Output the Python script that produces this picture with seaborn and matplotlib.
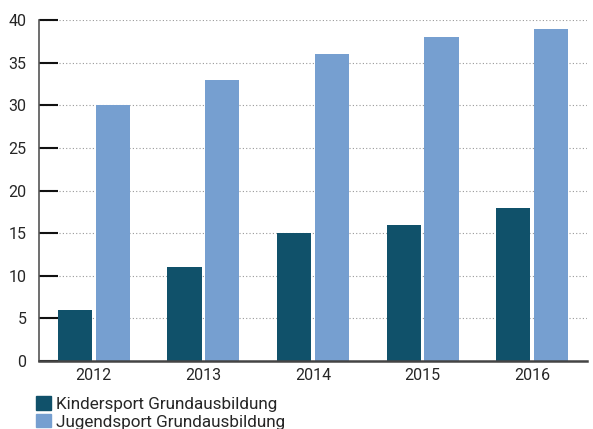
import matplotlib
matplotlib.use("Agg")
import matplotlib.pyplot as plt
import seaborn as sns
import pandas as pd
from matplotlib.patches import Patch

years = ["2012", "2013", "2014", "2015", "2016"]
kinder = [6, 11, 15, 16, 18]
jugend = [30, 33, 36, 38, 39]
series_names = ["Kindersport Grundausbildung", "Jugendsport Grundausbildung"]
colors = ["#10516A", "#769FD0"]
yticks = [0, 5, 10, 15, 20, 25, 30, 35, 40]

df = pd.DataFrame({
    "year": years * 2,
    "value": kinder + jugend,
    "series": [series_names[0]] * 5 + [series_names[1]] * 5,
})

sns.set_style("white")
plt.rcParams["font.family"] = ["Roboto", "DejaVu Sans"]

fig = plt.figure(figsize=(5.93, 4.29), dpi=100)
ax = fig.add_axes([39 / 593, 1 - 361 / 429, 548 / 593, 341 / 429])

sns.barplot(data=df, x="year", y="value", hue="series", palette=colors,
            width=0.69, gap=0.1, ax=ax, legend=False, saturation=1, linewidth=0)

ax.set_ylim(0, 40)
ax.set_xlim(-0.5, 4.5)
ax.set_yticks(yticks)
ax.set_xlabel("")
ax.set_ylabel("")
ax.yaxis.grid(True, linestyle=(0, (1, 2)), color="#999999", linewidth=0.8)
ax.set_axisbelow(True)
for s in ["top", "right"]:
    ax.spines[s].set_visible(False)
ax.spines["left"].set_color("#555555")
ax.spines["left"].set_linewidth(1.2)
ax.spines["bottom"].set_color("#444444")
ax.spines["bottom"].set_linewidth(1.8)
ax.tick_params(axis="y", left=True, direction="in", length=14, width=1.5, color="#111111",
               labelsize=11.5, pad=9)
ax.tick_params(axis="x", bottom=False, length=0, labelsize=11.5, pad=5)

handles = [Patch(color=c) for c in colors]
fig.legend(handles, series_names, loc="upper left", bbox_to_anchor=(36 / 593, 1 - 396 / 429),
           frameon=False, fontsize=12.3, handlelength=0.85, handleheight=0.85,
           handletextpad=0.3, labelspacing=0.12, borderaxespad=0, borderpad=0)

fig.savefig("out.png", dpi=100)
